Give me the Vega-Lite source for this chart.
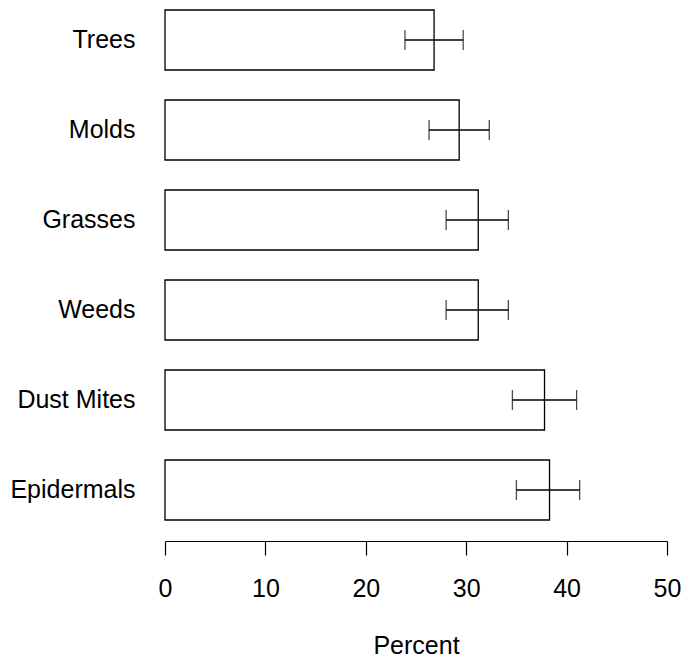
{
  "$schema": "https://vega.github.io/schema/vega-lite/v6.json",
  "width": 502,
  "height": 530,
  "autosize": {"type": "none"},
  "padding": {"left": 165, "top": 0, "right": 16, "bottom": 130},
  "config": {
    "view": {"stroke": null},
    "font": "Liberation Sans",
    "axis": {"labelFont": "Liberation Sans", "titleFont": "Liberation Sans", "labelColor": "#000", "titleColor": "#000"}
  },
  "data": {
    "values": [
      {"allergen": "Trees", "pct": 26.8, "lo": 23.9, "hi": 29.7},
      {"allergen": "Molds", "pct": 29.3, "lo": 26.3, "hi": 32.3},
      {"allergen": "Grasses", "pct": 31.2, "lo": 28.0, "hi": 34.2},
      {"allergen": "Weeds", "pct": 31.2, "lo": 28.0, "hi": 34.2},
      {"allergen": "Dust Mites", "pct": 37.8, "lo": 34.6, "hi": 41.0},
      {"allergen": "Epidermals", "pct": 38.3, "lo": 35.0, "hi": 41.3}
    ]
  },
  "encoding": {
    "y": {
      "field": "allergen",
      "type": "nominal",
      "sort": null,
      "scale": {"paddingInner": 0.3333, "paddingOuter": 0.111},
      "axis": {"title": null, "domain": false, "ticks": false, "labelPadding": 30, "labelFontSize": 25, "labelLimit": 300}
    }
  },
  "layer": [
    {
      "mark": {"type": "bar", "fill": "white", "stroke": "#000", "strokeWidth": 1.3},
      "encoding": {
        "x": {
          "field": "pct",
          "type": "quantitative",
          "scale": {"domain": [0, 50], "nice": false, "zero": true},
          "axis": {
            "values": [0, 10, 20, 30, 40, 50],
            "grid": false,
            "offset": 11,
            "tickSize": 14,
            "tickColor": "#000",
            "domainColor": "#000",
            "tickWidth": 1.2,
            "domainWidth": 1.2,
            "labelFontSize": 25,
            "labelAlign": "center",
            "labelFlush": false,
            "labelPadding": 21,
            "title": "Percent",
            "titleFontSize": 25,
            "titleFontWeight": "normal",
            "titlePadding": 32
          }
        }
      }
    },
    {
      "mark": {"type": "rule", "stroke": "#000", "strokeWidth": 1.3},
      "encoding": {
        "x": {"field": "lo", "type": "quantitative"},
        "x2": {"field": "hi"}
      }
    },
    {
      "mark": {"type": "tick", "color": "#000", "thickness": 1.3, "size": 20, "orient": "vertical"},
      "encoding": {"x": {"field": "lo", "type": "quantitative"}}
    },
    {
      "mark": {"type": "tick", "color": "#000", "thickness": 1.3, "size": 20, "orient": "vertical"},
      "encoding": {"x": {"field": "hi", "type": "quantitative"}}
    }
  ]
}
